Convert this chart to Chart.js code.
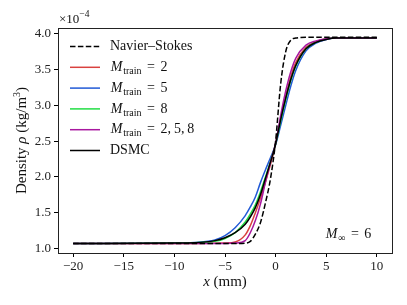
<!DOCTYPE html>
<html>
<head>
<meta charset="utf-8">
<script src="https://cdn.jsdelivr.net/npm/chart.js@4"></script>
<style>
  html, body { margin: 0; padding: 0; background: #fff; }
  #wrap { width: 407px; height: 305px; }
</style>
</head>
<body>
<div id="wrap"><canvas id="chart"></canvas></div>
<script>
// x positions (mm) and density values (x1e-4 kg/m^3)
const xs        = [-20, -10, -8, -6, -5, -4, -3, -2.5, -2, -1.5, -1, -0.5, 0, 0.5, 1, 1.5, 2, 3, 4, 5, 6, 8, 10];
const nsRho     = [1.07, 1.07, 1.07, 1.07, 1.07, 1.07, 1.075, 1.10, 1.20, 1.36, 1.64, 1.98, 2.50, 3.30, 3.75, 3.91, 3.94, 3.95, 3.95, 3.95, 3.95, 3.95, 3.95];
const train2    = [1.07, 1.07, 1.07, 1.072, 1.075, 1.09, 1.19, 1.32, 1.50, 1.70, 1.93, 2.18, 2.46, 2.80, 3.12, 3.40, 3.60, 3.81, 3.89, 3.93, 3.94, 3.94, 3.94];
const train5    = [1.07, 1.075, 1.085, 1.12, 1.18, 1.29, 1.46, 1.58, 1.72, 1.92, 2.10, 2.27, 2.45, 2.72, 3.00, 3.27, 3.49, 3.76, 3.87, 3.92, 3.94, 3.94, 3.94];
const train8    = [1.07, 1.075, 1.08, 1.10, 1.14, 1.22, 1.37, 1.48, 1.61, 1.79, 2.00, 2.22, 2.46, 2.78, 3.08, 3.35, 3.55, 3.79, 3.88, 3.93, 3.94, 3.94, 3.94];
const train258  = [1.07, 1.07, 1.07, 1.07, 1.07, 1.075, 1.11, 1.22, 1.39, 1.62, 1.93, 2.21, 2.47, 2.86, 3.20, 3.47, 3.66, 3.84, 3.90, 3.93, 3.94, 3.94, 3.94];
const dsmc      = [1.07, 1.075, 1.08, 1.11, 1.15, 1.22, 1.34, 1.44, 1.57, 1.75, 1.98, 2.21, 2.46, 2.80, 3.10, 3.36, 3.56, 3.79, 3.88, 3.92, 3.94, 3.94, 3.94];

const xTicks = [-20, -15, -10, -5, 0, 5, 10];
const yTicks = [1.0, 1.5, 2.0, 2.5, 3.0, 3.5, 4.0];

const FONT = '"Liberation Serif", "DejaVu Serif", serif';
const red = '#d9413f', blue = '#2159d6', green = '#22dd44', purple = '#a8189f';
const nsDash = [5.5, 2.4];

function pts(arr) {
    return xs.map((x, i) => ({ x: x, y: arr[i] }));
}

function line(label, arr, color, order, dash) {
    return {
        label: label,
        data: pts(arr),
        borderColor: color,
        borderWidth: 1.5,
        borderDash: dash || [],
        pointRadius: 0,
        fill: false,
        cubicInterpolationMode: 'monotone',
        order: order
    };
}

const minus = v => String(v).replace('-', '\u2212');

// math-like text: parts are [text, font, dy, box width, align in box]
function drawMath(ctx, x, y, parts) {
    parts.forEach(p => {
        ctx.font = p[1] + FONT;
        const w = ctx.measureText(p[0]).width;
        const box = p[3] || w;
        const off = p[4] === 'left' ? 0 : (box - w) / 2;
        ctx.fillText(p[0], x + off, y + (p[2] || 0));
        x += box;
    });
    return x;
}

function mTrain(rest) {
    const parts = [['M', 'italic 14px ', 0, 13.2], ['train', '10px ', 4], ['=', '14px ', 0, 19]];
    rest.forEach((r, i) => {
        parts.push([r, '14px ', 0, 7]);
        if (i < rest.length - 1) parts.push([',', '14px ', 0, 6.4, 'left']);
    });
    return parts;
}

// legend entries: [color, dash, parts]
const legendItems = [
    ['#000', nsDash, [['Navier\u2013Stokes', '14px ']]],
    [red, [], mTrain(['2'])],
    [blue, [], mTrain(['5'])],
    [green, [], mTrain(['8'])],
    [purple, [], mTrain(['2', '5', '8'])],
    ['#000', [], [['DSMC', '14px ']]]
];

const extras = {
    id: 'extras',
    afterDraw(chart) {
        const ctx = chart.ctx;
        const a = chart.chartArea;
        ctx.save();

        // frame
        ctx.strokeStyle = '#222';
        ctx.lineWidth = 1;
        ctx.setLineDash([]);
        ctx.strokeRect(Math.round(a.left) + 0.5, Math.round(a.top) + 0.5,
            Math.round(a.right - a.left), Math.round(a.bottom - a.top));

        ctx.fillStyle = '#111';
        ctx.textBaseline = 'middle';
        ctx.textAlign = 'left';

        // legend
        let y = 46.5;
        legendItems.forEach(it => {
            ctx.strokeStyle = it[0];
            ctx.lineWidth = 1.5;
            ctx.setLineDash(it[1]);
            ctx.beginPath();
            ctx.moveTo(70, y);
            ctx.lineTo(100, y);
            ctx.stroke();
            ctx.setLineDash([]);
            drawMath(ctx, 110, y, it[2]);
            y += 20.8;
        });

        // M_inf = 6
        drawMath(ctx, 325, 234, [['M', 'italic 14px ', 0, 13.2], ['\u221e', '10px ', 4], ['=', '14px ', 0, 19], ['6', '14px ', 0, 7]]);

        // x10^-4 offset label
        drawMath(ctx, 59, 20, [['\u00d710', '13px '], ['\u22124', '9.5px ', -6]]);

        // x axis title
        ctx.font = 'italic 15px ' + FONT;
        const w1 = ctx.measureText('x').width;
        ctx.font = '15px ' + FONT;
        const w2 = ctx.measureText(' (mm)').width;
        drawMath(ctx, (a.left + a.right) / 2 - (w1 + w2) / 2, 282, [['x', 'italic 15px '], [' (mm)', '15px ']]);

        // y axis title
        ctx.translate(22, (a.top + a.bottom) / 2);
        ctx.rotate(-Math.PI / 2);
        const parts = [['Density ', '15px '], ['\u03c1', 'italic 15px '], [' (kg/m', '15px '], ['3', '10px ', -5], [')', '15px ']];
        let total = 0;
        parts.forEach(p => {
            ctx.font = p[1] + FONT;
            total += ctx.measureText(p[0]).width;
        });
        drawMath(ctx, -total / 2, 0, parts);

        ctx.restore();
    }
};

new Chart(document.getElementById('chart'), {
    type: 'line',
    data: {
        datasets: [
            line('Navier\u2013Stokes', nsRho, '#000', 0, nsDash),
            line('DSMC', dsmc, '#000', 1),
            line('M_train = 2, 5, 8', train258, purple, 2),
            line('M_train = 8', train8, green, 3),
            line('M_train = 5', train5, blue, 4),
            line('M_train = 2', train2, red, 5)
        ]
    },
    options: {
        responsive: true,
        maintainAspectRatio: false,
        animation: false,
        layout: { padding: { top: 28, right: 15, bottom: 0, left: 0 } },
        plugins: { legend: { display: false }, tooltip: { enabled: false } },
        scales: {
            x: {
                type: 'linear',
                min: -21.5,
                max: 11.5,
                afterBuildTicks: s => { s.ticks = xTicks.map(v => ({ value: v })); },
                afterFit: s => { s.height = 52; },
                grid: { drawOnChartArea: false, drawTicks: true, tickLength: 4, color: '#000' },
                border: { display: false },
                ticks: {
                    color: '#222',
                    padding: 2,
                    maxRotation: 0,
                    font: { family: FONT, size: 13 },
                    callback: v => minus(v)
                }
            },
            y: {
                type: 'linear',
                min: 0.937,
                max: 4.08,
                afterBuildTicks: s => { s.ticks = yTicks.map(v => ({ value: v })); },
                afterFit: s => { s.width = 58; },
                grid: { drawOnChartArea: false, drawTicks: true, tickLength: 4, color: '#000' },
                border: { display: false },
                ticks: {
                    color: '#222',
                    padding: 3,
                    font: { family: FONT, size: 13 },
                    callback: v => v.toFixed(1)
                }
            }
        }
    },
    plugins: [extras]
});
</script>
</body>
</html>
